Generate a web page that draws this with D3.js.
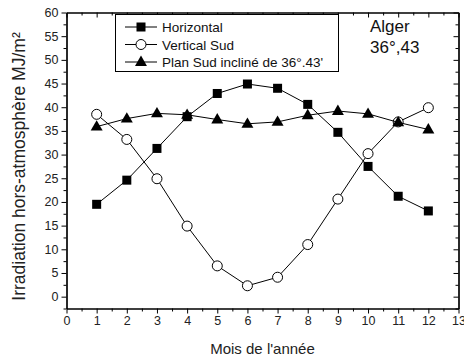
<!DOCTYPE html>
<html>
<head>
<meta charset="utf-8">
<script src="https://cdnjs.cloudflare.com/ajax/libs/d3/7.8.5/d3.min.js"></script>
<style>
  html, body { margin: 0; padding: 0; background: #fff; }
  svg { display: block; font-family: "Liberation Sans", Arial, sans-serif; }
</style>
</head>
<body>
<svg id="chart" width="464" height="360"></svg>
<script>
// Monthly extraterrestrial irradiation at Algiers (36°,43), MJ/m²
const months = [1, 2, 3, 4, 5, 6, 7, 8, 9, 10, 11, 12];
const horizontal = [19.5, 24.6, 31.3, 38.0, 42.9, 44.9, 44.0, 40.6, 34.7, 27.5, 21.2, 18.1];
const verticalSud = [38.5, 33.2, 24.9, 14.9, 6.5, 2.3, 4.1, 11.0, 20.6, 30.2, 36.9, 39.9];
const planIncline = [35.9, 37.6, 38.7, 38.4, 37.4, 36.5, 36.9, 38.3, 39.2, 38.6, 36.8, 35.3];

const xTicks = [0, 1, 2, 3, 4, 5, 6, 7, 8, 9, 10, 11, 12, 13];
const yTicks = [0, 5, 10, 15, 20, 25, 30, 35, 40, 45, 50, 55, 60];
const seriesNames = ["Horizontal", "Vertical Sud", "Plan Sud incliné de 36°.43'"];
const placeLabel = ["Alger", "36°,43"];
const xTitle = "Mois de l'année";
const yTitle = "Irradiation hors-atmosphère MJ/m²";

const svg = d3.select("#chart");
const W = 464, H = 360;
const plot = { left: 66.5, right: 458.5, top: 12.5, bottom: 308.5 };

svg.append("rect").attr("width", W).attr("height", H).attr("fill", "#fff");

const x = d3.scaleLinear().domain([0, 13]).range([plot.left, plot.right]);
const y = d3.scaleLinear().domain([-2.5, 60]).range([plot.bottom, plot.top]);

const xMinor = d3.range(0, 13.01, 0.5).filter(v => v % 1 !== 0);
const yMinor = d3.range(-2.5, 60.01, 2.5).filter(v => v % 5 !== 0);

// frame axes
function axisWith(gen, scale, ticks, size, labels) {
  return gen(scale).tickValues(ticks).tickSize(size).tickSizeOuter(0)
    .tickPadding(3).tickFormat(labels ? d3.format("d") : () => "");
}

const gBottom = svg.append("g").attr("transform", `translate(0,${plot.bottom})`);
gBottom.call(axisWith(d3.axisBottom, x, xTicks, 5, true));
gBottom.append("g").call(axisWith(d3.axisBottom, x, xMinor, 3, false));

const gLeft = svg.append("g").attr("transform", `translate(${plot.left},0)`);
gLeft.call(axisWith(d3.axisLeft, y, yTicks, 5, true));
gLeft.append("g").call(axisWith(d3.axisLeft, y, yMinor, 3, false));

const gTop = svg.append("g").attr("transform", `translate(0,${plot.top})`);
gTop.call(axisWith(d3.axisTop, x, xTicks, -5, false));
gTop.append("g").call(axisWith(d3.axisTop, x, xMinor, -3, false));

const gRight = svg.append("g").attr("transform", `translate(${plot.right},0)`);
gRight.call(axisWith(d3.axisRight, y, yTicks, -5, false));
gRight.append("g").call(axisWith(d3.axisRight, y, yMinor, -3, false));

svg.selectAll(".domain").attr("stroke", "#000").attr("stroke-width", 1.2);
svg.selectAll(".tick line").attr("stroke", "#000").attr("stroke-width", 1);
svg.selectAll(".tick text").attr("fill", "#222").style("font-size", "12.5px")
  .style("font-family", "'Liberation Sans', Arial, sans-serif");

// axis titles
svg.append("text")
  .attr("x", (plot.left + plot.right) / 2).attr("y", 354)
  .attr("text-anchor", "middle").attr("fill", "#222")
  .style("font-size", "15px").text(xTitle);

svg.append("text")
  .attr("transform", `translate(25,${(plot.top + plot.bottom) / 2 + 6}) rotate(-90)`)
  .attr("text-anchor", "middle").attr("fill", "#222")
  .style("font-size", "17.5px").text(yTitle);

// series
const line = d3.line().x((d, i) => x(months[i])).y(d => y(d));
const series = [
  { name: seriesNames[0], values: horizontal, symbol: "square" },
  { name: seriesNames[1], values: verticalSud, symbol: "circle" },
  { name: seriesNames[2], values: planIncline, symbol: "triangle" }
];

function drawMarker(g, sym, cx, cy) {
  if (sym === "square") {
    g.append("rect").attr("x", cx - 4.5).attr("y", cy - 4.5)
      .attr("width", 9).attr("height", 9).attr("fill", "#000");
  } else if (sym === "circle") {
    g.append("circle").attr("cx", cx).attr("cy", cy).attr("r", 5)
      .attr("fill", "#fff").attr("stroke", "#000").attr("stroke-width", 1);
  } else {
    g.append("path")
      .attr("d", d3.symbol().type(d3.symbolTriangle).size(62)())
      .attr("transform", `translate(${cx},${cy + 0.5})`)
      .attr("fill", "#000");
  }
}

series.forEach(s => {
  const g = svg.append("g");
  g.append("path").datum(s.values).attr("d", line)
    .attr("fill", "none").attr("stroke", "#000").attr("stroke-width", 1);
  s.values.forEach((v, i) => drawMarker(g, s.symbol, x(months[i]), y(v)));
});

// legend
const lg = svg.append("g");
lg.append("rect").attr("x", 115.5).attr("y", 14.5).attr("width", 223).attr("height", 57)
  .attr("fill", "#fff").attr("stroke", "#000").attr("stroke-width", 1);
series.forEach((s, i) => {
  const cy = 27 + i * 17.5;
  lg.append("line").attr("x1", 125).attr("x2", 157).attr("y1", cy).attr("y2", cy)
    .attr("stroke", "#000").attr("stroke-width", 1);
  drawMarker(lg, s.symbol, 141, cy);
  lg.append("text").attr("x", 162).attr("y", cy + 5).attr("fill", "#111")
    .style("font-size", "13.5px").text(s.name);
});

// location annotation
placeLabel.forEach((t, i) => {
  svg.append("text").attr("x", 370).attr("y", 32 + i * 21).attr("fill", "#111")
    .style("font-size", "17px").text(t);
});
</script>
</body>
</html>
